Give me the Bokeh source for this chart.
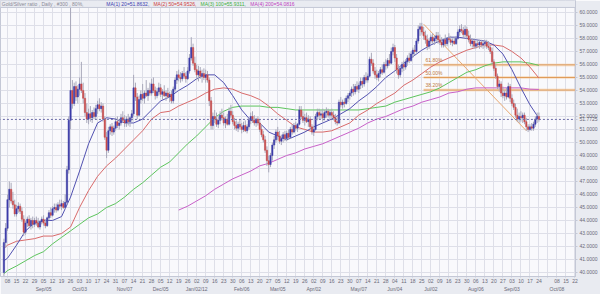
import numpy as np
import pandas as pd
from bokeh.plotting import figure
from bokeh.models import (ColumnDataSource, Range1d, LinearAxis, FixedTicker,
                          NumeralTickFormatter, Label)
from bokeh.embed import file_html
from bokeh.resources import INLINE

# ---------------- data ----------------
first_day = "2011-08-04"   # first candle, business days afterwards

opens = [
    40.0, 42.3,
    43.4, 45.6, 46.4, 45.5, 45.2,
    44.5, 44.9, 45.1, 44.7, 44.1,
    43.1, 43.8, 44.1, 43.6, 44.0,
    43.7, 44.0, 43.8, 43.5, 43.9,
    44.1, 43.8, 43.6, 44.2, 44.6,
    44.4, 44.9, 45.0, 44.8, 45.2,
    45.1, 45.3, 45.0, 45.4, 47.9,
    51.7, 54.0, 53.0, 54.3, 53.5,
    54.1, 54.5, 54.0, 53.4, 52.3,
    51.8, 52.2, 51.9, 52.3, 52.0,
    52.6, 52.9, 52.6, 52.8, 51.8,
    50.4, 49.4, 50.9, 51.2, 50.8,
    51.1, 51.6, 51.3, 51.5, 51.9,
    51.7, 51.5, 51.8, 51.6, 51.9,
    52.2, 54.2, 53.5, 52.1, 53.3,
    53.7, 53.4, 53.8, 53.6, 54.0,
    53.8, 54.5, 54.0, 53.6, 53.9,
    54.2, 53.7, 53.9, 53.6, 53.8,
    53.5, 53.7, 53.2, 54.1, 54.8,
    55.2, 55.0, 54.9, 55.3, 55.1,
    54.9, 55.5, 56.5, 57.3, 56.1,
    55.6, 55.2, 55.5, 55.1, 55.3,
    55.0, 55.2, 54.8, 53.2, 51.3,
    52.0, 51.8, 51.4, 51.7, 52.1,
    51.9, 51.5, 51.8, 51.4, 52.4,
    52.1, 51.6, 51.3, 51.1, 51.4,
    51.2, 51.0, 51.3, 50.9, 51.2,
    51.7, 52.0, 51.7, 51.5, 51.8,
    51.5, 51.0, 50.6, 50.2, 49.4,
    48.6, 48.3, 49.0, 49.8, 50.2,
    50.8, 50.5, 50.1, 50.3, 50.6,
    50.3, 50.7, 50.4, 51.0, 50.8,
    51.3, 51.1, 51.4, 52.5, 52.0,
    51.7, 51.9, 51.6, 51.8, 51.2,
    50.8, 51.0, 52.0, 52.3, 52.1,
    52.2, 51.9, 52.3, 52.4, 52.1,
    52.3, 52.1, 51.9, 51.6, 51.5,
    53.1, 52.9, 53.1, 53.0, 53.4,
    53.6, 53.8, 54.1, 53.9, 54.3,
    54.1, 54.4, 54.7, 54.5, 55.0,
    54.8, 55.1, 56.4, 56.1, 55.5,
    55.2, 55.0, 55.3, 55.6, 55.4,
    56.0, 55.9, 56.3, 56.1, 57.0,
    57.3, 56.5, 55.6, 55.2, 55.7,
    56.0, 55.8, 56.2, 56.5, 56.3,
    56.8, 57.1, 57.0, 57.8, 58.7,
    58.9, 58.5, 58.2, 57.9, 57.4,
    57.8, 58.1, 57.8, 58.0, 58.2,
    57.9, 57.7, 57.5, 57.9, 57.6,
    58.0, 57.9, 57.7, 57.8, 57.6,
    58.0, 58.5, 58.7, 58.6, 58.3,
    58.7, 58.2, 57.9, 57.6, 57.8,
    57.4, 57.6, 57.5, 57.7, 57.5,
    57.6, 57.7, 57.4, 57.3, 57.0,
    56.2, 55.7, 55.1, 54.3, 54.5,
    53.8, 53.6, 53.8, 53.5, 54.3,
    53.4, 53.0, 52.7, 52.1, 51.8,
    52.0, 51.9, 52.1, 51.6, 51.2,
    51.0, 51.2, 51.1, 51.4, 51.8,
    52.0,
]
highs = [
    42.6, 43.8,
    46.0, 47.0, 46.9, 46.2, 45.6,
    45.2, 45.4, 45.3, 45.0, 44.4,
    44.0, 44.3, 44.4, 44.2, 44.3,
    44.2, 44.3, 44.2, 44.0, 44.3,
    44.4, 44.1, 44.3, 44.8, 45.0,
    45.1, 45.3, 45.3, 45.4, 45.6,
    45.6, 45.5, 46.0, 48.2, 52.0,
    60.9, 54.8, 54.6, 54.7, 54.4,
    55.0, 56.2, 54.6, 53.8, 53.0,
    52.6, 52.8, 52.5, 52.7, 52.9,
    53.2, 53.4, 53.1, 53.0, 52.0,
    50.8, 51.2, 51.4, 51.5, 51.3,
    51.9, 52.0, 51.8, 52.2, 52.4,
    52.1, 52.0, 52.2, 52.0, 52.5,
    55.2, 54.6, 53.8, 53.6, 54.0,
    54.5, 54.0, 54.8, 54.2, 54.6,
    54.9, 55.0, 54.3, 54.2, 54.6,
    54.5, 54.1, 54.4, 54.0, 54.2,
    53.9, 54.0, 54.3, 55.0, 55.5,
    55.6, 55.4, 55.5, 55.8, 55.4,
    55.8, 56.8, 58.1, 57.6, 56.6,
    56.0, 55.9, 55.8, 55.6, 55.7,
    55.6, 55.5, 55.0, 53.5, 52.3,
    52.5, 52.3, 52.0, 52.4, 52.6,
    52.3, 52.0, 52.2, 52.7, 52.9,
    52.4, 51.9, 51.7, 51.6, 51.8,
    51.5, 51.6, 51.7, 51.4, 51.9,
    52.3, 52.4, 52.1, 51.9, 52.0,
    51.8, 51.4, 50.9, 50.5, 49.7,
    49.0, 49.2, 50.0, 50.5, 51.0,
    51.2, 50.9, 50.6, 50.8, 50.9,
    50.9, 51.0, 51.2, 51.4, 51.5,
    51.6, 51.5, 52.8, 52.8, 52.4,
    52.2, 52.3, 52.1, 52.0, 51.4,
    51.3, 52.2, 52.6, 52.6, 52.5,
    52.6, 52.5, 52.7, 52.6, 52.5,
    52.6, 52.4, 52.2, 52.0, 53.3,
    53.5, 53.3, 53.4, 53.6, 53.8,
    54.0, 54.3, 54.5, 54.5, 54.7,
    54.6, 55.0, 55.0, 55.2, 55.4,
    55.3, 56.6, 56.9, 56.4, 55.8,
    55.6, 55.5, 55.8, 56.0, 56.2,
    56.4, 56.5, 56.8, 57.3, 57.6,
    57.5, 56.8, 56.0, 55.9, 56.2,
    56.3, 56.4, 56.7, 56.9, 57.0,
    57.3, 57.5, 58.0, 59.0, 59.2,
    59.2, 58.9, 58.6, 58.3, 58.0,
    58.3, 58.4, 58.2, 58.5, 58.5,
    58.3, 58.1, 58.0, 58.3, 58.1,
    58.4, 58.2, 58.0, 58.1, 58.2,
    58.7, 59.0, 59.1, 58.9, 59.0,
    58.9, 58.6, 58.3, 58.0, 58.0,
    57.8, 57.9, 57.9, 57.9, 57.8,
    57.9, 57.9, 57.8, 57.5, 57.3,
    56.4, 56.0, 55.3, 54.8, 54.7,
    54.3, 54.0, 54.2, 54.6, 54.5,
    53.7, 53.3, 53.0, 52.6, 52.3,
    52.4, 52.3, 52.3, 51.9, 51.4,
    51.4, 51.5, 51.6, 52.0, 52.3,
    52.3,
]
lows = [
    39.7, 41.9,
    43.2, 45.0, 45.3, 44.9, 44.3,
    44.3, 44.6, 44.5, 43.9, 42.8,
    42.9, 43.5, 43.4, 43.3, 43.4,
    43.5, 43.6, 43.4, 43.3, 43.7,
    43.6, 43.4, 43.5, 44.0, 44.2,
    44.3, 44.6, 44.6, 44.7, 44.9,
    44.8, 44.9, 44.9, 45.2, 47.6,
    51.0, 52.6, 52.8, 53.2, 53.0,
    53.6, 53.8, 53.0, 52.0, 51.5,
    51.4, 51.6, 51.5, 51.8, 51.8,
    52.2, 52.4, 52.3, 51.6, 50.2,
    48.8, 49.2, 50.6, 50.5, 50.6,
    50.9, 51.1, 51.0, 51.3, 51.5,
    51.2, 51.2, 51.3, 51.2, 51.6,
    52.0, 53.2, 51.8, 52.0, 53.0,
    53.2, 53.0, 53.5, 53.2, 53.6,
    53.6, 53.8, 53.3, 53.4, 53.6,
    53.5, 53.3, 53.5, 53.2, 53.4,
    53.1, 53.0, 53.0, 53.9, 54.5,
    54.7, 54.6, 54.7, 54.9, 54.6,
    54.8, 55.3, 56.3, 55.9, 55.4,
    54.8, 54.7, 54.9, 54.6, 54.8,
    54.6, 54.6, 52.8, 51.0, 51.0,
    51.5, 51.2, 51.1, 51.4, 51.7,
    51.3, 51.1, 51.3, 51.3, 51.9,
    51.4, 51.0, 50.9, 50.8, 51.0,
    50.7, 50.8, 50.8, 50.7, 51.0,
    51.4, 51.5, 51.3, 51.2, 51.3,
    50.8, 50.4, 50.0, 49.2, 48.2,
    47.7, 48.1, 48.6, 49.5, 50.0,
    50.2, 49.9, 49.8, 50.0, 50.1,
    50.1, 50.2, 50.3, 50.6, 50.7,
    50.9, 50.8, 51.3, 51.8, 51.5,
    51.3, 51.5, 51.2, 51.0, 50.6,
    50.5, 50.9, 51.7, 51.8, 51.8,
    51.6, 51.7, 51.9, 51.9, 51.8,
    51.9, 51.7, 51.4, 51.3, 51.4,
    52.7, 52.6, 52.7, 52.9, 53.1,
    53.3, 53.5, 53.6, 53.7, 53.9,
    53.8, 54.1, 54.2, 54.3, 54.6,
    54.6, 55.0, 55.9, 55.3, 54.9,
    54.8, 54.7, 55.0, 55.2, 55.3,
    55.6, 55.7, 55.9, 56.0, 56.7,
    56.2, 55.3, 54.9, 55.0, 55.4,
    55.5, 55.6, 55.9, 56.1, 56.2,
    56.5, 56.7, 56.9, 57.6, 58.2,
    58.3, 57.9, 57.6, 57.1, 57.2,
    57.6, 57.6, 57.5, 57.7, 57.6,
    57.5, 57.3, 57.3, 57.4, 57.4,
    57.7, 57.5, 57.4, 57.5, 57.5,
    57.9, 58.2, 58.4, 58.0, 58.1,
    58.0, 57.7, 57.4, 57.3, 57.2,
    57.2, 57.3, 57.2, 57.3, 57.2,
    57.3, 57.2, 57.1, 56.8, 56.0,
    55.5, 54.9, 54.1, 53.9, 53.5,
    53.4, 53.2, 53.3, 53.4, 53.1,
    52.8, 52.5, 51.9, 51.6, 51.5,
    51.6, 51.5, 51.4, 50.9, 50.8,
    50.9, 50.9, 50.9, 51.2, 51.5,
    51.6,
]
closes = [
    42.3, 43.4,
    45.6, 46.4, 45.5, 45.2, 44.5,
    44.9, 45.1, 44.7, 44.1, 43.1,
    43.8, 44.1, 43.6, 44.0, 43.7,
    44.0, 43.8, 43.5, 43.9, 44.1,
    43.8, 43.6, 44.2, 44.6, 44.4,
    44.9, 45.0, 44.8, 45.2, 45.1,
    45.3, 45.0, 45.4, 47.9, 51.7,
    54.0, 53.0, 54.3, 53.5, 54.1,
    54.5, 54.0, 53.4, 52.3, 51.8,
    52.2, 51.9, 52.3, 52.0, 52.6,
    52.9, 52.6, 52.8, 51.8, 50.4,
    49.4, 50.9, 51.2, 50.8, 51.1,
    51.6, 51.3, 51.5, 51.9, 51.7,
    51.5, 51.8, 51.6, 51.9, 52.2,
    54.2, 53.5, 52.1, 53.3, 53.7,
    53.4, 53.8, 53.6, 54.0, 53.8,
    54.5, 54.0, 53.6, 53.9, 54.2,
    53.7, 53.9, 53.6, 53.8, 53.5,
    53.7, 53.2, 54.1, 54.8, 55.2,
    55.0, 54.9, 55.3, 55.1, 54.9,
    55.5, 56.5, 57.3, 56.1, 55.6,
    55.2, 55.5, 55.1, 55.3, 55.0,
    55.2, 54.8, 53.2, 51.3, 52.0,
    51.8, 51.4, 51.7, 52.1, 51.9,
    51.5, 51.8, 51.4, 52.4, 52.1,
    51.6, 51.3, 51.1, 51.4, 51.2,
    51.0, 51.3, 50.9, 51.2, 51.7,
    52.0, 51.7, 51.5, 51.8, 51.5,
    51.0, 50.6, 50.2, 49.4, 48.6,
    48.3, 49.0, 49.8, 50.2, 50.8,
    50.5, 50.1, 50.3, 50.6, 50.3,
    50.7, 50.4, 51.0, 50.8, 51.3,
    51.1, 51.4, 52.5, 52.0, 51.7,
    51.9, 51.6, 51.8, 51.2, 50.8,
    51.0, 52.0, 52.3, 52.1, 52.2,
    51.9, 52.3, 52.4, 52.1, 52.3,
    52.1, 51.9, 51.6, 51.5, 53.1,
    52.9, 53.1, 53.0, 53.4, 53.6,
    53.8, 54.1, 53.9, 54.3, 54.1,
    54.4, 54.7, 54.5, 55.0, 54.8,
    55.1, 56.4, 56.1, 55.5, 55.2,
    55.0, 55.3, 55.6, 55.4, 56.0,
    55.9, 56.3, 56.1, 57.0, 57.3,
    56.5, 55.6, 55.2, 55.7, 56.0,
    55.8, 56.2, 56.5, 56.3, 56.8,
    57.1, 57.0, 57.8, 58.7, 58.9,
    58.5, 58.2, 57.9, 57.4, 57.8,
    58.1, 57.8, 58.0, 58.2, 57.9,
    57.7, 57.5, 57.9, 57.6, 58.0,
    57.9, 57.7, 57.8, 57.6, 58.0,
    58.5, 58.7, 58.6, 58.3, 58.7,
    58.2, 57.9, 57.6, 57.8, 57.4,
    57.6, 57.5, 57.7, 57.5, 57.6,
    57.7, 57.4, 57.3, 57.0, 56.2,
    55.7, 55.1, 54.3, 54.5, 53.8,
    53.6, 53.8, 53.5, 54.3, 53.4,
    53.0, 52.7, 52.1, 51.8, 52.0,
    51.9, 52.1, 51.6, 51.2, 51.0,
    51.2, 51.1, 51.4, 51.8, 52.0,
    51.7725,
]

# moving averages, read weekly (first value on the first day, then every Monday from 2011-08-08)
ma20 = [40.9,
        41.1, 42.1, 43.2, 43.8, 44.0, 44.0, 44.3, 45.8, 47.8, 49.9,
        51.5, 51.9, 51.8, 51.5, 51.5, 51.8, 52.5, 53.2, 53.5, 54.0,
        54.4, 54.9, 55.2, 55.2, 54.6, 53.6, 52.5, 51.7, 51.5, 50.8,
        50.5, 50.2, 50.5, 50.8, 51.2, 51.5, 51.8, 52.2, 52.6, 53.2,
        53.7, 54.3, 55.0, 55.5, 56.1, 56.6, 57.1, 57.5, 57.8, 58.1,
        58.1, 58.0, 57.9, 57.8, 57.5, 56.8, 55.6, 54.2, 52.9, 51.86]
ma50 = [41.85,
        42.1, 42.4, 42.5, 42.6, 42.8, 42.8, 43.0, 43.5, 45.0, 46.3,
        47.4, 48.2, 48.8, 49.5, 50.2, 50.9, 51.8, 52.3, 52.4, 52.8,
        53.1, 53.4, 53.8, 54.1, 54.2, 54.1, 53.8, 53.6, 53.3, 52.8,
        52.2, 51.7, 51.2, 51.0, 50.8, 50.8, 50.9, 51.2, 51.5, 52.1,
        52.5, 53.0, 53.4, 53.8, 54.4, 54.8, 55.3, 55.8, 56.2, 56.5,
        56.8, 57.1, 57.3, 57.5, 57.5, 57.4, 57.0, 56.5, 55.8, 54.95]
ma100 = [39.9,
         40.15, 40.5, 40.9, 41.3, 41.6, 42.2, 42.7, 43.2, 43.7, 44.2,
         44.5, 45.0, 45.3, 45.8, 46.4, 46.9, 47.5, 48.1, 48.5, 49.2,
         49.9, 50.5, 51.2, 51.9, 52.4, 52.7, 52.8, 52.8, 52.8, 52.7,
         52.7, 52.6, 52.5, 52.5, 52.5, 52.5, 52.5, 52.5, 52.5, 52.5,
         52.6, 52.7, 52.8, 53.1, 53.3, 53.5, 53.7, 53.9, 54.2, 54.6,
         55.0, 55.4, 55.6, 55.9, 56.1, 56.2, 56.2, 56.2, 56.1, 55.93]
ma200_start = "2011-12-19"   # every Monday from here
ma200 = [44.8, 45.1, 45.5, 45.9, 46.4, 46.8, 47.2, 47.5, 47.8, 48.2,
         48.4, 48.7, 49.0, 49.2, 49.5, 49.7, 49.9, 50.2, 50.5, 50.8,
         51.1, 51.5, 51.8, 52.0, 52.3, 52.6, 52.8, 53.1, 53.3, 53.5,
         53.8, 53.9, 54.1, 54.2, 54.2, 54.2, 54.2, 54.2, 54.2, 54.1,
         54.08]

# Fibonacci retracement
fib_high_date, fib_high = "2012-06-26", 59.1
fib_low_date, fib_low = "2012-09-13", 50.9
fib_ratios = [0.618, 0.5, 0.382]
fib_labels = ["61.80%", "50.00%", "38.20%"]

# axis labels
y_ticks = list(range(40, 61))
week_first, week_last = "2011-08-08", "2012-10-22"
hidden_week_labels = ["2012-10-01"]
month_dates = ["2011-09-05", "2011-10-03", "2011-11-07", "2011-12-05", "2012-01-02",
               "2012-02-06", "2012-03-05", "2012-04-02", "2012-05-07", "2012-06-04",
               "2012-07-02", "2012-08-06", "2012-09-03", "2012-10-08"]
month_labels = ["Sep/05", "Oct/03", "Nov/07", "Dec/05", "Jan/02/12", "Feb/06", "Mar/05",
                "Apr/02", "May/07", "Jun/04", "Jul/02", "Aug/06", "Sep/03", "Oct/08"]
title_parts = [("Gold/Silver ratio , Daily , #300 , 80%,", "#8a8a96"),
               ("MA(1) 20=51.8632,", "#4040b0"),
               ("MA(2) 50=54.9526,", "#d04040"),
               ("MA(3) 100=55.9311,", "#40b040"),
               ("MA(4) 200=54.0816", "#c040c0")]

# ---------------- helpers ----------------
def bidx(d):
    return int(np.busday_count(np.datetime64(first_day), np.datetime64(pd.Timestamp(d).date())))

n = len(closes)
idx = np.arange(n)
o = np.array(opens); h = np.array(highs); l = np.array(lows); c = np.array(closes)
up = c >= o
BLUE, RED = "#3c3ca8", "#c84a4a"
src = ColumnDataSource(dict(x=idx, o=o, h=h, l=l, c=c,
                            top=np.maximum(o, c), bot=np.minimum(o, c),
                            col=np.where(up, BLUE, RED)))

mondays = pd.date_range(week_first, week_last, freq="W-MON")
week_idx = [bidx(d) for d in mondays]
week_lbl = {bidx(d): ("" if d.strftime("%Y-%m-%d") in hidden_week_labels else d.strftime("%d"))
            for d in mondays}
ma_x = [0] + [bidx(d) for d in pd.date_range(week_first, periods=len(ma20) - 1, freq="W-MON")]
ma200_x = [bidx(d) for d in pd.date_range(ma200_start, periods=len(ma200), freq="W-MON")]

FONT = "Liberation Sans"
TXT = "#6a6a78"
BORDER = "#e9ebf1"
FRAME = "#c4c8d6"
Y_TOP_FRAME = 60.385          # top edge of the price area
last = closes[-1]

p = figure(width=600, height=294, output_backend="svg", toolbar_location=None,
           x_range=Range1d(-1.9, 317.3), y_range=Range1d(39.69, 60.92),
           y_axis_location="right", min_border_left=0, min_border_top=0,
           min_border_right=0, min_border_bottom=0,
           background_fill_color="#f9f9fc", border_fill_color=BORDER,
           outline_line_color=FRAME)

# grid
p.xgrid.ticker = FixedTicker(ticks=week_idx)
p.ygrid.ticker = FixedTicker(ticks=y_ticks)
p.xgrid.grid_line_color = "#dedfe8"
p.ygrid.grid_line_color = "#dedfe8"

def style_axis(ax, standoff, tick_out):
    ax.major_label_text_font_size = "5px"
    ax.major_label_text_font = FONT
    ax.major_label_text_color = TXT
    ax.major_tick_out = tick_out
    ax.major_tick_in = 0
    ax.minor_tick_out = 0
    ax.minor_tick_in = 0
    ax.minor_tick_line_color = None
    ax.major_label_standoff = standoff
    ax.axis_label = None

# y axis (right) - price levels plus the current price tag
ya = p.yaxis[0]
ya.ticker = FixedTicker(ticks=y_ticks + [last])
ya.formatter = NumeralTickFormatter(format="0.0000")
style_axis(ya, 2, 2)
ya.axis_line_color = FRAME
ya.major_tick_line_color = FRAME

# x axis (day numbers)
xa = p.xaxis[0]
xa.ticker = FixedTicker(ticks=week_idx)
xa.major_label_overrides = week_lbl
style_axis(xa, 1, 1)
xa.axis_line_color = FRAME
xa.major_tick_line_color = FRAME

month_idx = [bidx(d) for d in month_dates]
m_axis = LinearAxis(ticker=FixedTicker(ticks=month_idx),
                    major_label_overrides={k: v for k, v in zip(month_idx, month_labels)},
                    axis_line_color=None, major_tick_line_color=None)
style_axis(m_axis, 0, 0)
p.add_layout(m_axis, "below")

# fib levels
hi_x, lo_x = bidx(fib_high_date), bidx(fib_low_date)
for r, lab in zip(fib_ratios, fib_labels):
    lvl = fib_low + r * (fib_high - fib_low)
    p.segment(x0=hi_x, y0=lvl, x1=320, y1=lvl, line_color="#f3c9a0", line_width=3, line_alpha=0.45)
    p.segment(x0=hi_x, y0=lvl, x1=320, y1=lvl, line_color="#e09a55", line_width=1)
    p.add_layout(Label(x=hi_x + 1, y=lvl + 0.15, text=lab, text_font_size="5px",
                       text_font=FONT, text_color="#c07a40"))
p.segment(x0=hi_x, y0=fib_high, x1=lo_x, y1=fib_low, line_color="#e8a870", line_width=1)

# moving averages
p.line(ma_x, ma100, line_color="#5cc45c", line_width=1)
p.line(ma200_x, ma200, line_color="#c860c8", line_width=1)
p.line(ma_x, ma50, line_color="#d86a6a", line_width=1)
p.line(ma_x, ma20, line_color="#5050b0", line_width=1)

# candles
p.segment(x0="x", y0="l", x1="x", y1="h", source=src, line_color="#a8a8ba", line_width=1)
p.vbar(x="x", top="top", bottom="bot", width=0.75, source=src,
       fill_color="col", line_color="col", line_width=0.5)

# current price line
p.segment(x0=-5, y0=last, x1=330, y1=last, line_color="#6a6aa6", line_width=1, line_dash="2 2")

# header strip above the price area (title band)
p.quad(left=-10, right=330, bottom=Y_TOP_FRAME, top=62, fill_color=BORDER, line_color=None)
p.segment(x0=-10, y0=Y_TOP_FRAME, x1=330, y1=Y_TOP_FRAME, line_color=FRAME, line_width=1)

xpos = -1.2
for txt, col in title_parts:
    p.add_layout(Label(x=xpos, y=60.66, text=txt, text_font_size="5px", text_font=FONT,
                       text_color=col, text_baseline="middle"))
    xpos += len(txt) * 1.45 + 1.5

open("out.html", "w").write(file_html(p, INLINE))
